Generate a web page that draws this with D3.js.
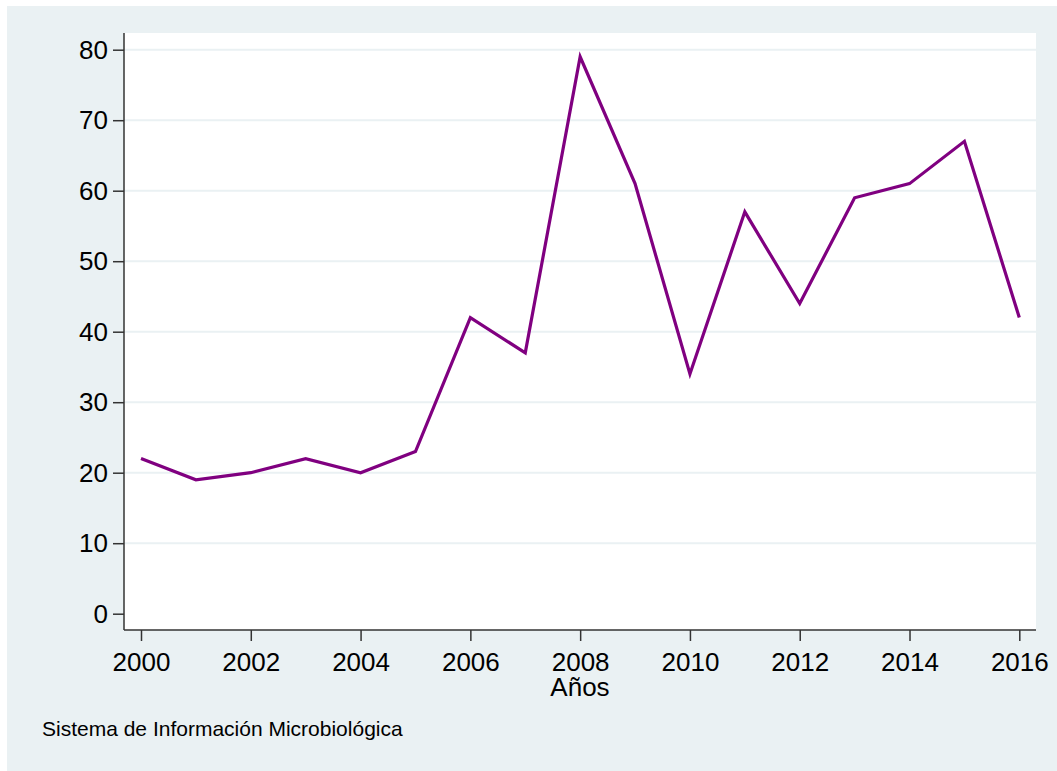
<!DOCTYPE html>
<html><head><meta charset="utf-8">
<script src="https://cdn.jsdelivr.net/npm/d3@7"></script>
<style>html,body{margin:0;padding:0;background:#fff;}svg{display:block;}</style>
</head><body>
<svg id="c" width="1057" height="771"></svg>
<script>
const years = [2000,2001,2002,2003,2004,2005,2006,2007,2008,2009,2010,2011,2012,2013,2014,2015,2016];
const values = [22,19,20,22,20,23,42,37,79,61,34,57,44,59,61,67,42];
const yTicks = [0,10,20,30,40,50,60,70,80];
const xTicks = [2000,2002,2004,2006,2008,2010,2012,2014,2016];
const xTitle = "Años";
const note = "Sistema de Información Microbiológica";

const svg = d3.select("#c");
const font = "'Liberation Sans', Arial, sans-serif";
const bg = "#EAF1F3";
svg.append("rect").attr("x",7).attr("y",6).attr("width",1050).attr("height",765).attr("fill",bg);
const pl = {l:124, t:33, r:1036, b:630};
svg.append("rect").attr("x",pl.l).attr("y",pl.t).attr("width",pl.r-pl.l).attr("height",pl.b-pl.t).attr("fill","#fff");

const x = d3.scaleLinear().domain([2000,2016]).range([141,1019.3]);
const y = d3.scaleLinear().domain([0,80]).range([613.7,49.7]);

// gridlines
svg.append("g").selectAll("line").data(yTicks.filter(d=>d>0)).join("line")
  .attr("x1",pl.l).attr("x2",pl.r).attr("y1",d=>y(d)).attr("y2",d=>y(d))
  .attr("stroke",bg).attr("stroke-width",2);

// line
svg.append("path").datum(years.map((d,i)=>[d,values[i]]))
  .attr("d", d3.line().x(d=>x(d[0])).y(d=>y(d[1])))
  .attr("fill","none").attr("stroke","#800080").attr("stroke-width",3.2).attr("stroke-linejoin","miter");

// y axis
const ya = svg.append("g").attr("transform",`translate(${pl.l},0)`)
  .call(d3.axisLeft(y).tickValues(yTicks).tickSize(11).tickPadding(5).tickSizeOuter(0));
ya.select(".domain").attr("d",`M0,${pl.t}V${pl.b}`);
// x axis
const xa = svg.append("g").attr("transform",`translate(0,${pl.b})`)
  .call(d3.axisBottom(x).tickValues(xTicks).tickFormat(d3.format("d")).tickSize(11).tickPadding(12).tickSizeOuter(0));
xa.select(".domain").attr("d",`M${pl.l},0H${pl.r}`);
svg.selectAll(".tick line, .domain").attr("stroke","#333").attr("stroke-width",1.5);
svg.selectAll(".tick text").attr("font-family",font).attr("font-size",26).attr("fill","#000");

svg.append("text").attr("x",(pl.l+pl.r)/2).attr("y",696).attr("text-anchor","middle")
  .attr("font-family",font).attr("font-size",26).attr("fill","#000").text(xTitle);
svg.append("text").attr("x",42).attr("y",735.5)
  .attr("font-family",font).attr("font-size",21).attr("fill","#000").text(note);
</script>
</body></html>
